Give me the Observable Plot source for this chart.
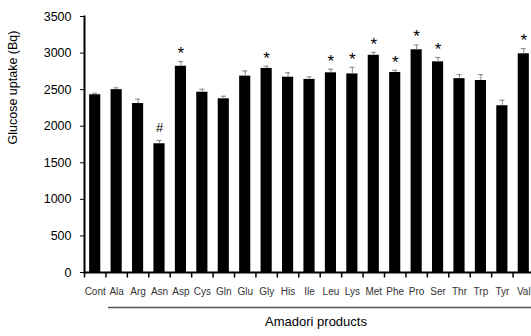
<!DOCTYPE html>
<html>
<head>
<meta charset="utf-8">
<script src="https://cdn.jsdelivr.net/npm/d3@7"></script>
<script src="https://cdn.jsdelivr.net/npm/@observablehq/plot@0.6"></script>
<style>
  html, body { margin: 0; padding: 0; background: #fff; overflow: hidden; }
  svg { display: block; }
</style>
</head>
<body>
<div id="chart"></div>
<script>
const categories = ["Cont","Ala","Arg","Asn","Asp","Cys","Gln","Glu","Gly","His","Ile","Leu","Lys","Met","Phe","Pro","Ser","Thr","Trp","Tyr","Val"];
const values = [2430, 2500, 2310, 1760, 2820, 2465, 2375, 2685, 2790, 2670, 2640, 2730, 2715, 2970, 2735, 3045, 2880, 2650, 2625, 2280, 2990];
const errors = [20, 25, 60, 45, 65, 40, 35, 70, 30, 60, 35, 50, 90, 40, 30, 65, 60, 55, 80, 75, 70];
const marks = ["", "", "", "#", "*", "", "", "", "*", "", "", "*", "*", "*", "*", "*", "*", "", "", "", "*"];
const yTicks = [0, 500, 1000, 1500, 2000, 2500, 3000, 3500];
const yLabel = "Glucose uptake (Bq)";
const xTitle = "Amadori products";

const data = categories.map((c, i) => ({cat: c, value: values[i], err: errors[i], mark: marks[i]}));
const sig = data.filter(d => d.mark === "*");
const hash = data.filter(d => d.mark === "#");

const W = 531, H = 336;
const xRange = [84, 534];
const step = (xRange[1] - xRange[0]) / categories.length;

const font = "'Liberation Sans', Arial, sans-serif";

// downward tick symbol for category boundaries
const downTick = {draw(ctx) { ctx.moveTo(0, 0); ctx.lineTo(0, 5); }};

const chart = Plot.plot({
  width: W,
  height: H,
  marginLeft: 84,
  marginRight: 0,
  marginTop: 16,
  marginBottom: 64,
  style: {fontFamily: font, background: "#fff", overflow: "visible"},
  x: {domain: categories, range: xRange, paddingInner: 0.48, paddingOuter: 0.24, round: false, label: null},
  y: {domain: [0, 3500], label: null},
  marks: [
    Plot.barY(data, {x: "cat", y: "value", fill: "#000"}),
    Plot.ruleX(data, {x: "cat", y1: "value", y2: d => d.value + d.err, stroke: "#888", strokeWidth: 1}),
    Plot.tickY(data, {x: "cat", y: d => d.value + d.err, stroke: "#888", strokeWidth: 1, insetLeft: 3, insetRight: 3}),
    Plot.text(sig, {x: "cat", y: d => d.value + d.err, text: "mark", dy: -8, fontSize: 17, fill: "#000", lineAnchor: "middle"}),
    Plot.text(hash, {x: "cat", y: d => d.value + d.err, text: "mark", dy: -13, fontSize: 13, fill: "#000", lineAnchor: "middle"}),
    Plot.ruleY([0], {stroke: "#000", strokeWidth: 2}),
    Plot.frame({anchor: "left", stroke: "#000", strokeWidth: 2}),
    Plot.axisY({ticks: yTicks, tickFormat: d3.format("d"), tickSize: 4, tickPadding: 9, fontSize: 12.5, label: null, stroke: "#000"}),
    Plot.text([yLabel], {frameAnchor: "left", rotate: -90, dx: -72, fontSize: 12.5, fill: "#000"}),
    Plot.dot(categories, {x: d => d, y: () => 0, symbol: downTick, r: 3, dx: -step / 2, stroke: "#000", strokeWidth: 1.5, fill: "none"}),
    Plot.axisX({tickSize: 0, tickPadding: 15, fontSize: 10, fill: "#333", label: null}),
    Plot.ruleY([0], {dy: 35, insetLeft: 24, stroke: "#555", strokeWidth: 1.5}),
    Plot.text([xTitle], {frameAnchor: "bottom", dx: 8, dy: 53, fontSize: 13, fill: "#000"})
  ]
});
document.getElementById("chart").appendChild(chart);
</script>
</body>
</html>
